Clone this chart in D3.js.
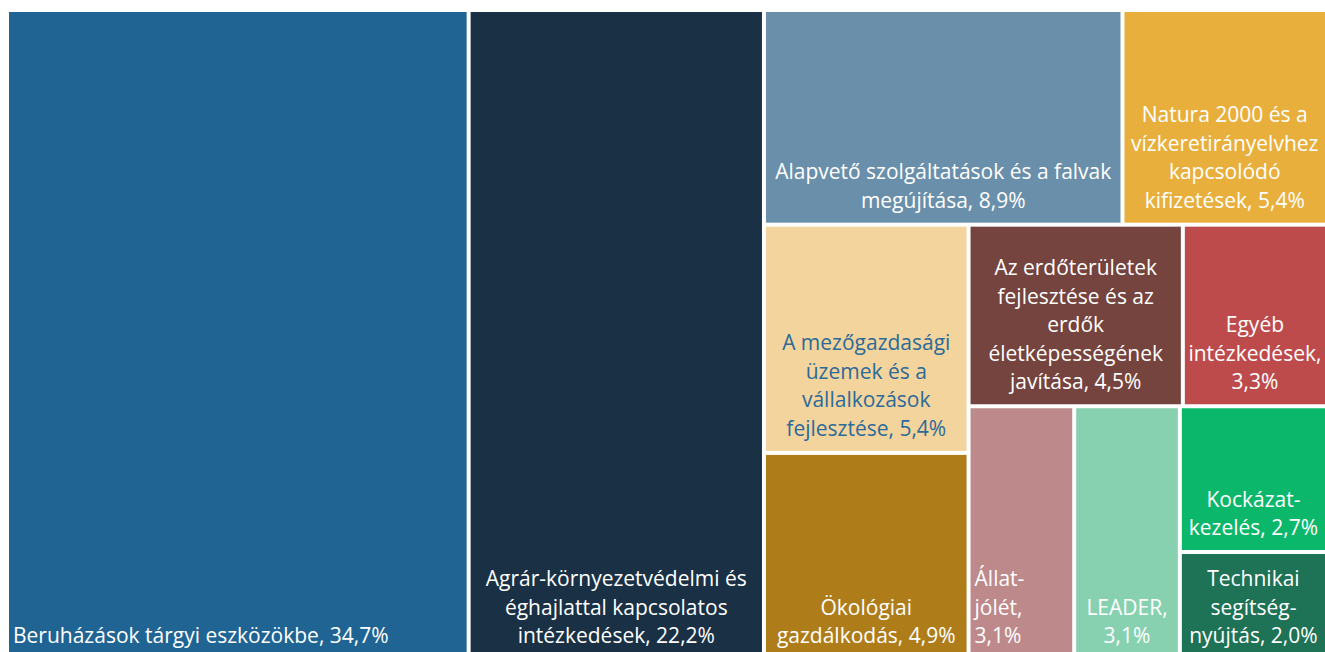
<!DOCTYPE html>
<html>
<head>
<meta charset="utf-8">
<script src="https://cdn.jsdelivr.net/npm/d3@7"></script>
<style>
  body { margin: 0; background: #fff; }
  text { font-family: "Open Sans", sans-serif; font-size: 21px; }
</style>
</head>
<body>
<div class="chart"></div>
<script>
// category names (line breaks as in the original labels), the value is appended
const names = [
  "Beruházások tárgyi eszközökbe, ",
  "Agrár-környezetvédelmi és\néghajlattal kapcsolatos\nintézkedések, ",
  "Alapvető szolgáltatások és a falvak\nmegújítása, ",
  "Natura 2000 és a\nvízkeretirányelvhez\nkapcsolódó\nkifizetések, ",
  "A mezőgazdasági\nüzemek és a\nvállalkozások\nfejlesztése, ",
  "Ökológiai\ngazdálkodás, ",
  "Az erdőterületek\nfejlesztése és az\nerdők\néletképességének\njavítása, ",
  "Egyéb\nintézkedések,\n",
  "Állat-\njólét,\n",
  "LEADER,\n",
  "Kockázat-\nkezelés, ",
  "Technikai\nsegítség-\nnyújtás, "
];
const values = [34.7, 22.2, 8.9, 5.4, 5.4, 4.9, 4.5, 3.3, 3.1, 3.1, 2.7, 2.0];
const colors = ["#1F6493", "#1A3145", "#6A8FAA", "#E9AF3D", "#F3D49C", "#AE7D1A",
                "#75443E", "#BE4B4C", "#BD898B", "#87D1B1", "#0BB86B", "#1E7255"];
const textColors = ["#fff", "#fff", "#fff", "#fff", "#2B6A99", "#fff",
                    "#fff", "#fff", "#fff", "#fff", "#fff", "#fff"];
// how the tiles are grouped (indexes into the arrays above), alternating columns / rows
const grouping = [0, 1, [[2, 3], [[4, 5], [[6, 7], [8, 9, [10, 11]]]]]];

const w = 1325;
const h = 652;
const padLeft = 9, padTop = 12, tmW = 1329, tmH = 646;
const leftAligned = [0, 8];
const lineH = 28.5;

const fmt = d3.formatLocale({decimal: ",", thousands: " ", grouping: [3], currency: ["", ""]}).format(".1f");

function build(g) {
  if (Array.isArray(g)) return {children: g.map(build)};
  return {idx: g};
}

var root = d3.hierarchy(build(grouping))
  .sum(d => d.idx !== undefined ? values[d.idx] : 0);

d3.treemap()
  .tile(d3.treemapSliceDice)
  .size([tmW, tmH])
  .paddingInner(4)
  .round(false)(root);

var svg = d3.select(".chart").append("svg")
  .attr("width", w)
  .attr("height", h)
  .style("display", "block");

var g = svg.append("g").attr("transform", "translate(" + padLeft + "," + padTop + ")");

var cell = g.selectAll(".cell")
  .data(root.leaves())
  .enter().append("g")
  .attr("class", "cell");

cell.append("rect")
  .attr("x", d => d.x0)
  .attr("y", d => d.y0)
  .attr("width", d => d.x1 - d.x0)
  .attr("height", d => d.y1 - d.y0)
  .attr("fill", d => colors[d.data.idx]);

// labels sit at the bottom of each tile, centred on the part that is visible
cell.each(function (d) {
  var i = d.data.idx;
  var lines = (names[i] + fmt(values[i]) + "%").split("\n");
  var isLeft = leftAligned.indexOf(i) >= 0;
  var right = Math.min(d.x1, w - padLeft);
  var x = isLeft ? d.x0 + 4 : (d.x0 + right) / 2;
  var bottom = d.y1 - 15;
  var t = d3.select(this).append("text")
    .attr("text-anchor", isLeft ? "start" : "middle")
    .attr("fill", textColors[i]);
  lines.forEach(function (l, k) {
    t.append("tspan")
      .attr("x", x)
      .attr("y", bottom - (lines.length - 1 - k) * lineH)
      .text(l);
  });
});
</script>
</body>
</html>
